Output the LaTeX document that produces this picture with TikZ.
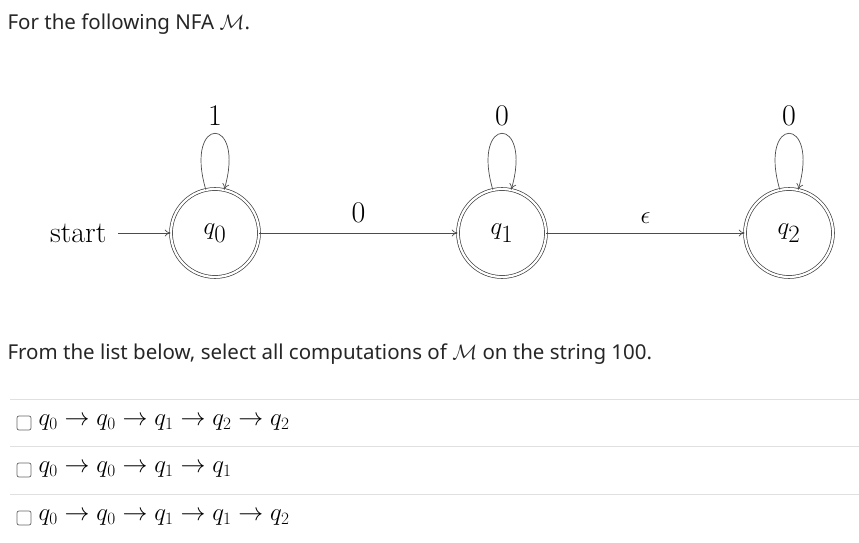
\documentclass[tikz,border=0pt]{standalone}
\usepackage{fontspec}
\setsansfont{Noto Sans}
\usetikzlibrary{arrows.meta}
\begin{document}
\begin{tikzpicture}[x=1pt,y=-1pt,
  st/.style={circle,minimum size=88pt,draw=black!75,double=white,double distance=2.2pt,line width=0.7pt,font=\fontsize{33}{35}\selectfont},
  ed/.style={draw=black!70,line width=0.7pt,-{To[length=6pt,width=7pt]}},
  lbl/.style={font=\fontsize{30}{32}\selectfont},
  txt/.style={font=\sffamily\fontsize{20.5}{23}\selectfont,anchor=west,text=black!85},
  row/.style={draw=black!12,line width=0.8pt},
  cb/.style={draw=black!60,rounded corners=2pt,minimum size=14pt,inner sep=0pt,line width=0.7pt},
  itm/.style={font=\fontsize{27}{29}\selectfont,anchor=west}]
\useasboundingbox (0,0) rectangle (859,543);
\node[txt] (t1) at (4,24) {For the following NFA $\mathcal{M}$.};
\node[st] (q0) at (215,233) {$q_0$};
\node[st] (q1) at (502,233) {$q_1$};
\node[st] (q2) at (789,233) {$q_2$};
\node[lbl,anchor=east] (s) at (110,233) {start};
\draw[ed] (s.east) ++(8,0) coordinate (s0) (s0) -- (q0);
\draw[ed] (q0) -- node[lbl,above=6pt]{0} (q1);
\draw[ed] (q1) -- node[lbl,above=6pt]{$\epsilon$} (q2);
\foreach \q/\l in {q0/1,q1/0,q2/0}{
\draw[ed] (\q.102) .. controls +(-22,-75) and +(22,-75) .. (\q.78) node[lbl,pos=0.5,above=4pt]{\l};}
\node[txt] (t2) at (4,354) {From the list below, select all computations of $\mathcal{M}$ on the string 100.};
\coordinate (l1a) at (10,399); \coordinate (l1b) at (859,399);
\coordinate (l2a) at (10,446); \coordinate (l2b) at (859,446);
\coordinate (l3a) at (10,494); \coordinate (l3b) at (859,494);
\draw[row] (l1a) -- (l1b); \draw[row] (l2a) -- (l2b); \draw[row] (l3a) -- (l3b);
\node[cb] (c1) at (24,423) {}; \node[cb] (c2) at (24,470) {}; \node[cb] (c3) at (24,518) {};
\node[itm] (i1) at (35,423) {$q_0\rightarrow q_0\rightarrow q_1\rightarrow q_2\rightarrow q_2$};
\node[itm] (i2) at (35,470) {$q_0\rightarrow q_0\rightarrow q_1\rightarrow q_1$};
\node[itm] (i3) at (35,518) {$q_0\rightarrow q_0\rightarrow q_1\rightarrow q_1\rightarrow q_2$};
\end{tikzpicture}
\end{document}
